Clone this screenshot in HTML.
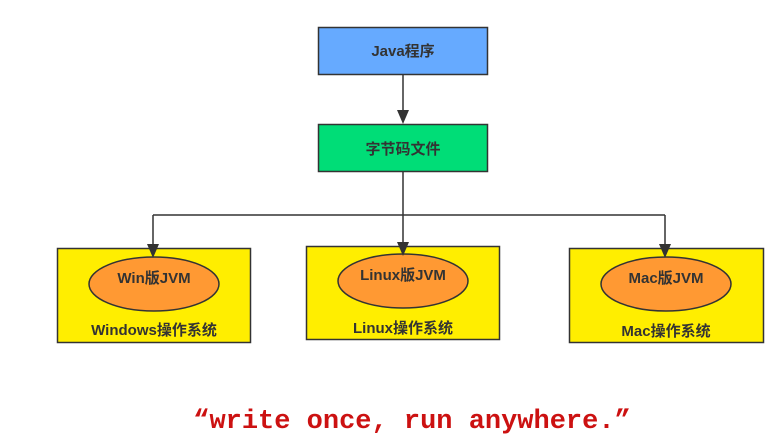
<!DOCTYPE html>
<html><head><meta charset="utf-8"><style>
html,body{margin:0;padding:0;background:#fff;width:776px;height:447px;overflow:hidden}
svg text{font-family:"Liberation Sans","Noto Sans CJK SC",sans-serif;font-weight:bold;fill:#333;font-size:15px}
</style></head><body>
<svg width="776" height="447" viewBox="0 0 776 447" xmlns="http://www.w3.org/2000/svg">
<rect x="318.5" y="27.5" width="169" height="47" fill="#66aaff" stroke="#333" stroke-width="1.5"/>
<text x="403" y="56" text-anchor="middle">Java程序</text>
<line x1="403" y1="75" x2="403" y2="112" stroke="#333" stroke-width="1.5"/>
<polygon points="397,110 409,110 403,124" fill="#333"/>
<rect x="318.5" y="124.5" width="169" height="47" fill="#00dd77" stroke="#333" stroke-width="1.5"/>
<text x="403" y="154" text-anchor="middle">字节码文件</text>
<path d="M403,172 V246 M153,215 H665 M153,215 V246 M665,215 V248" stroke="#333" stroke-width="1.5" fill="none"/>
<rect x="57.5" y="248.5" width="193" height="94" fill="#ffee00" stroke="#333" stroke-width="1.5"/>
<ellipse cx="154" cy="284" rx="65" ry="27" fill="#ff9933" stroke="#333" stroke-width="1.5"/>
<text x="154" y="283" text-anchor="middle">Win版JVM</text>
<text x="154" y="335" text-anchor="middle">Windows操作系统</text>
<rect x="306.5" y="246.5" width="193" height="93" fill="#ffee00" stroke="#333" stroke-width="1.5"/>
<ellipse cx="403" cy="281" rx="65" ry="27" fill="#ff9933" stroke="#333" stroke-width="1.5"/>
<text x="403" y="280" text-anchor="middle">Linux版JVM</text>
<text x="403" y="333" text-anchor="middle">Linux操作系统</text>
<rect x="569.5" y="248.5" width="194" height="94" fill="#ffee00" stroke="#333" stroke-width="1.5"/>
<ellipse cx="666" cy="284" rx="65" ry="27" fill="#ff9933" stroke="#333" stroke-width="1.5"/>
<text x="666" y="283" text-anchor="middle">Mac版JVM</text>
<text x="666" y="336" text-anchor="middle">Mac操作系统</text>
<polygon points="147,244 159,244 153,258" fill="#333"/>
<polygon points="397,242 409,242 403,256" fill="#333"/>
<polygon points="659,244 671,244 665,258" fill="#333"/>
<text x="412" y="428" text-anchor="middle" style="font-family:'Liberation Mono',monospace;font-size:27px;fill:#cc1111;font-weight:bold">“write once, run anywhere.”</text>
</svg>
</body></html>
